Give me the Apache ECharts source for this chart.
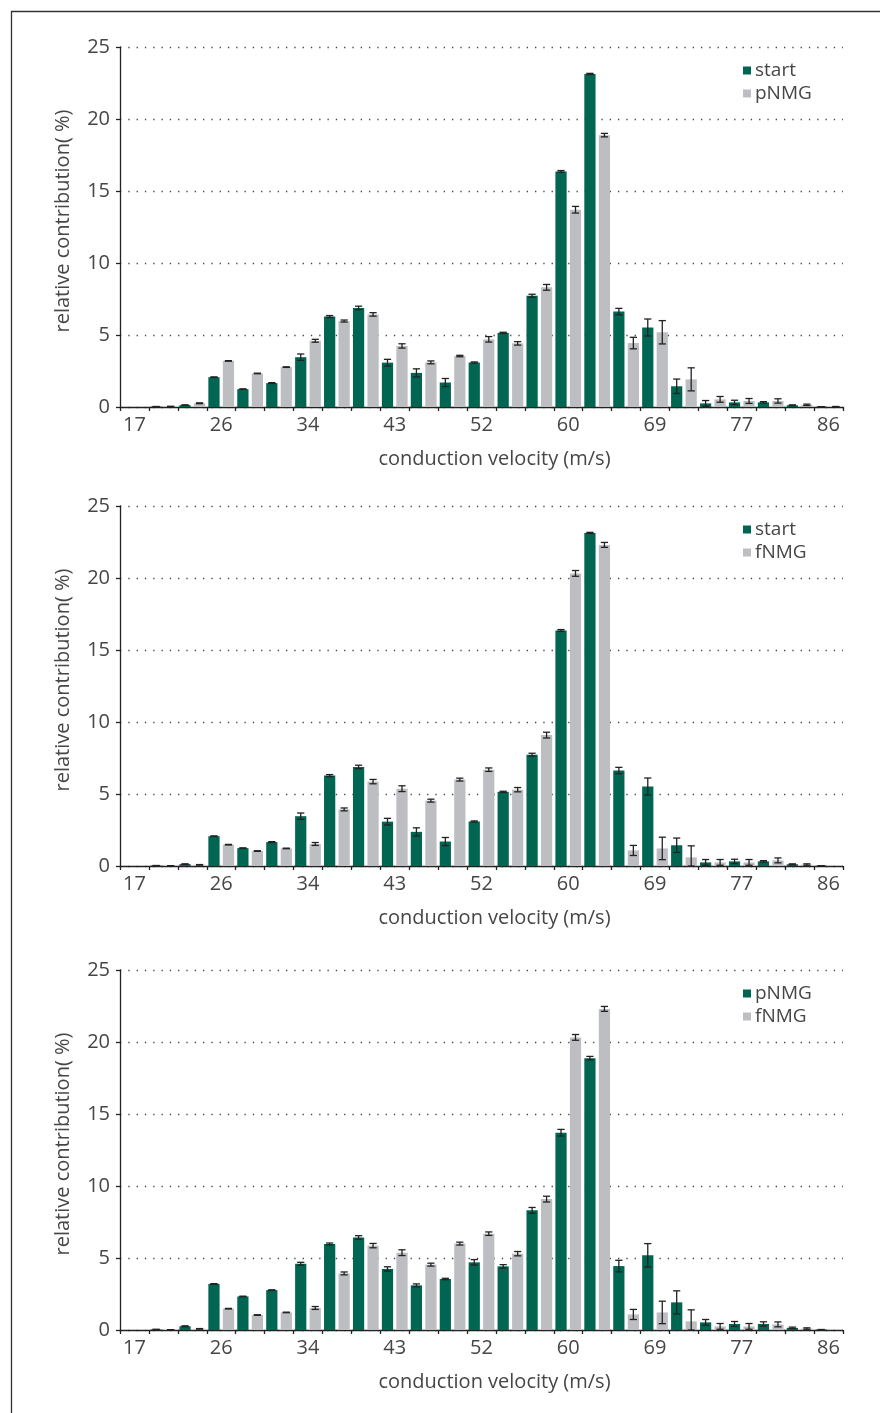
<!DOCTYPE html>
<html>
<head>
<meta charset="utf-8">
<script src="https://cdn.jsdelivr.net/npm/echarts@6/dist/echarts.min.js"></script>
<style>
  html, body { margin: 0; padding: 0; background: #fff; }
  #chart { width: 880px; height: 1413px; }
</style>
</head>
<body>
<div id="chart"></div>
<script>
// conduction velocity bins (m/s); labels shown every 3rd bin
const categories = ['17','20','23','26','29','31','34','37','40','43','46','49','52','54','57','60','63','66','69','72','75','77','80','83','86'];

const startValues = [0, 0.03, 0.13, 2.07, 1.24, 1.66, 3.46, 6.28, 6.88, 3.08, 2.37, 1.70, 3.09, 5.15, 7.73, 16.36, 23.13, 6.63, 5.52, 1.44, 0.25, 0.32, 0.32, 0.12, 0.02];
const startErr    = [0, 0, 0.02, 0.02, 0.02, 0.03, 0.22, 0.07, 0.12, 0.23, 0.28, 0.28, 0.04, 0.04, 0.10, 0.06, 0.04, 0.22, 0.59, 0.50, 0.20, 0.15, 0.05, 0.03, 0];

const pNMGValues  = [0, 0.04, 0.26, 3.20, 2.33, 2.77, 4.60, 5.97, 6.43, 4.24, 3.10, 3.54, 4.70, 4.42, 8.31, 13.70, 18.88, 4.44, 5.19, 1.92, 0.53, 0.42, 0.42, 0.15, 0.03];
const pNMGErr     = [0, 0, 0.03, 0.02, 0.02, 0.02, 0.10, 0.07, 0.12, 0.15, 0.10, 0.05, 0.19, 0.12, 0.20, 0.23, 0.12, 0.40, 0.81, 0.80, 0.20, 0.17, 0.15, 0.05, 0];

const fNMGValues  = [0, 0.02, 0.08, 1.48, 1.04, 1.22, 1.53, 3.93, 5.86, 5.37, 4.54, 6.00, 6.69, 5.30, 9.09, 20.32, 22.30, 1.08, 1.22, 0.60, 0.25, 0.25, 0.39, 0.10, 0];
const fNMGErr     = [0, 0, 0.02, 0.02, 0.02, 0.02, 0.10, 0.10, 0.15, 0.20, 0.10, 0.10, 0.12, 0.15, 0.20, 0.20, 0.17, 0.35, 0.78, 0.80, 0.20, 0.20, 0.17, 0.05, 0];

const yTicks = { min: 0, max: 25, interval: 5 };

const panels = [
  { first: 'start', firstVals: startValues, firstErr: startErr, second: 'pNMG', secondVals: pNMGValues, secondErr: pNMGErr },
  { first: 'start', firstVals: startValues, firstErr: startErr, second: 'fNMG', secondVals: fNMGValues, secondErr: fNMGErr },
  { first: 'pNMG',  firstVals: pNMGValues,  firstErr: pNMGErr,  second: 'fNMG', secondVals: fNMGValues, secondErr: fNMGErr }
];

const GREEN = '#006652';
const GRAY = '#bdbec2';
const TXT = '#464646';
const FONT = "'Open Sans', 'Noto Sans', sans-serif";
const CAT_GAP = 0.11, BAR_GAP = 0.29;

const gridTops = [47, 506, 970];
const gridHeight = 360;

function errRender(side) {
  return function (params, api) {
    const i = api.value(0), v = api.value(1), e = api.value(2);
    if (!(v > 0)) return null;
    const bw = api.size([1, 0])[0];
    const barW = bw * (1 - CAT_GAP) / (2 + BAR_GAP);
    const off = side * (barW * (1 + BAR_GAP)) / 2;
    const c = api.coord([i, v]);
    const x = c[0] + off;
    const yt = api.coord([i, v + e])[1];
    const yb = api.coord([i, Math.max(0, v - e)])[1];
    const hw = 3.6;
    const st = { stroke: '#222', lineWidth: 1.3 };
    return { type: 'group', children: [
      { type: 'line', shape: { x1: x, y1: yt, x2: x, y2: yb }, style: st },
      { type: 'line', shape: { x1: x - hw, y1: yt, x2: x + hw, y2: yt }, style: st },
      { type: 'line', shape: { x1: x - hw, y1: yb, x2: x + hw, y2: yb }, style: st }
    ]};
  };
}

const grids = [], xAxes = [], yAxes = [], series = [], legends = [];
panels.forEach((p, k) => {
  grids.push({ left: 120, width: 723, top: gridTops[k], height: gridHeight });
  xAxes.push({
    type: 'category', gridIndex: k, data: categories, boundaryGap: true,
    name: 'conduction velocity (m/s)', nameLocation: 'middle', nameGap: 42,
    nameTextStyle: { fontSize: 20, color: TXT, fontFamily: FONT, padding: [0, 0, 0, 26] },
    axisLine: { lineStyle: { color: '#222', width: 1.3 } },
    axisTick: { show: true, interval: 0, length: 4, lineStyle: { color: '#222', width: 1.3 } },
    axisLabel: { interval: 2, fontSize: 20, color: TXT, fontFamily: FONT, margin: 8 }
  });
  yAxes.push({
    type: 'value', gridIndex: k, min: yTicks.min, max: yTicks.max, interval: yTicks.interval,
    name: 'relative contribution( %)', nameLocation: 'middle', nameGap: 47, nameRotate: 90,
    nameTextStyle: { fontSize: 20, color: TXT, fontFamily: FONT, padding: [0, 0, 0, 12] },
    axisLine: { show: true, lineStyle: { color: '#222', width: 1.3 } },
    axisTick: { show: true, length: 4, lineStyle: { color: '#222', width: 1.3 } },
    axisLabel: { fontSize: 20, color: TXT, fontFamily: FONT, margin: 10 },
    splitLine: { show: true, lineStyle: { color: '#444', type: [1.3, 7], width: 1.3 } }
  });
  series.push({
    type: 'bar', name: p.first, xAxisIndex: k, yAxisIndex: k, data: p.firstVals,
    itemStyle: { color: GREEN }, barCategoryGap: (CAT_GAP * 100) + '%', barGap: (BAR_GAP * 100) + '%'
  });
  series.push({
    type: 'bar', name: p.second, xAxisIndex: k, yAxisIndex: k, data: p.secondVals,
    itemStyle: { color: GRAY }, barCategoryGap: (CAT_GAP * 100) + '%', barGap: (BAR_GAP * 100) + '%'
  });
  series.push({
    type: 'custom', xAxisIndex: k, yAxisIndex: k, z: 5, renderItem: errRender(-1),
    data: p.firstVals.map((v, i) => [i, v, p.firstErr[i]]), encode: { x: 0, y: 1 }
  });
  series.push({
    type: 'custom', xAxisIndex: k, yAxisIndex: k, z: 5, renderItem: errRender(1),
    data: p.secondVals.map((v, i) => [i, v, p.secondErr[i]]), encode: { x: 0, y: 1 }
  });
  legends.push({
    orient: 'vertical', left: 738, top: gridTops[k] + 9, itemWidth: 8, itemHeight: 8, itemGap: 4,
    icon: 'rect', selectedMode: false,
    textStyle: { fontSize: 19, color: TXT, fontFamily: FONT, padding: [0, 0, 0, -1] },
    data: [
      { name: p.first, itemStyle: { color: GREEN } },
      { name: p.second, itemStyle: { color: GRAY } }
    ]
  });
});

const chart = echarts.init(document.getElementById('chart'), null, { renderer: 'canvas' });
chart.setOption({
  animation: false,
  backgroundColor: '#fff',
  grid: grids, xAxis: xAxes, yAxis: yAxes, series: series, legend: legends,
  graphic: [{
    type: 'rect', left: 9, top: 9, shape: { x: 0, y: 0, width: 900, height: 1430 },
    style: { fill: 'none', stroke: '#333', lineWidth: 1.3 }, silent: true
  }]
});
</script>
</body>
</html>
